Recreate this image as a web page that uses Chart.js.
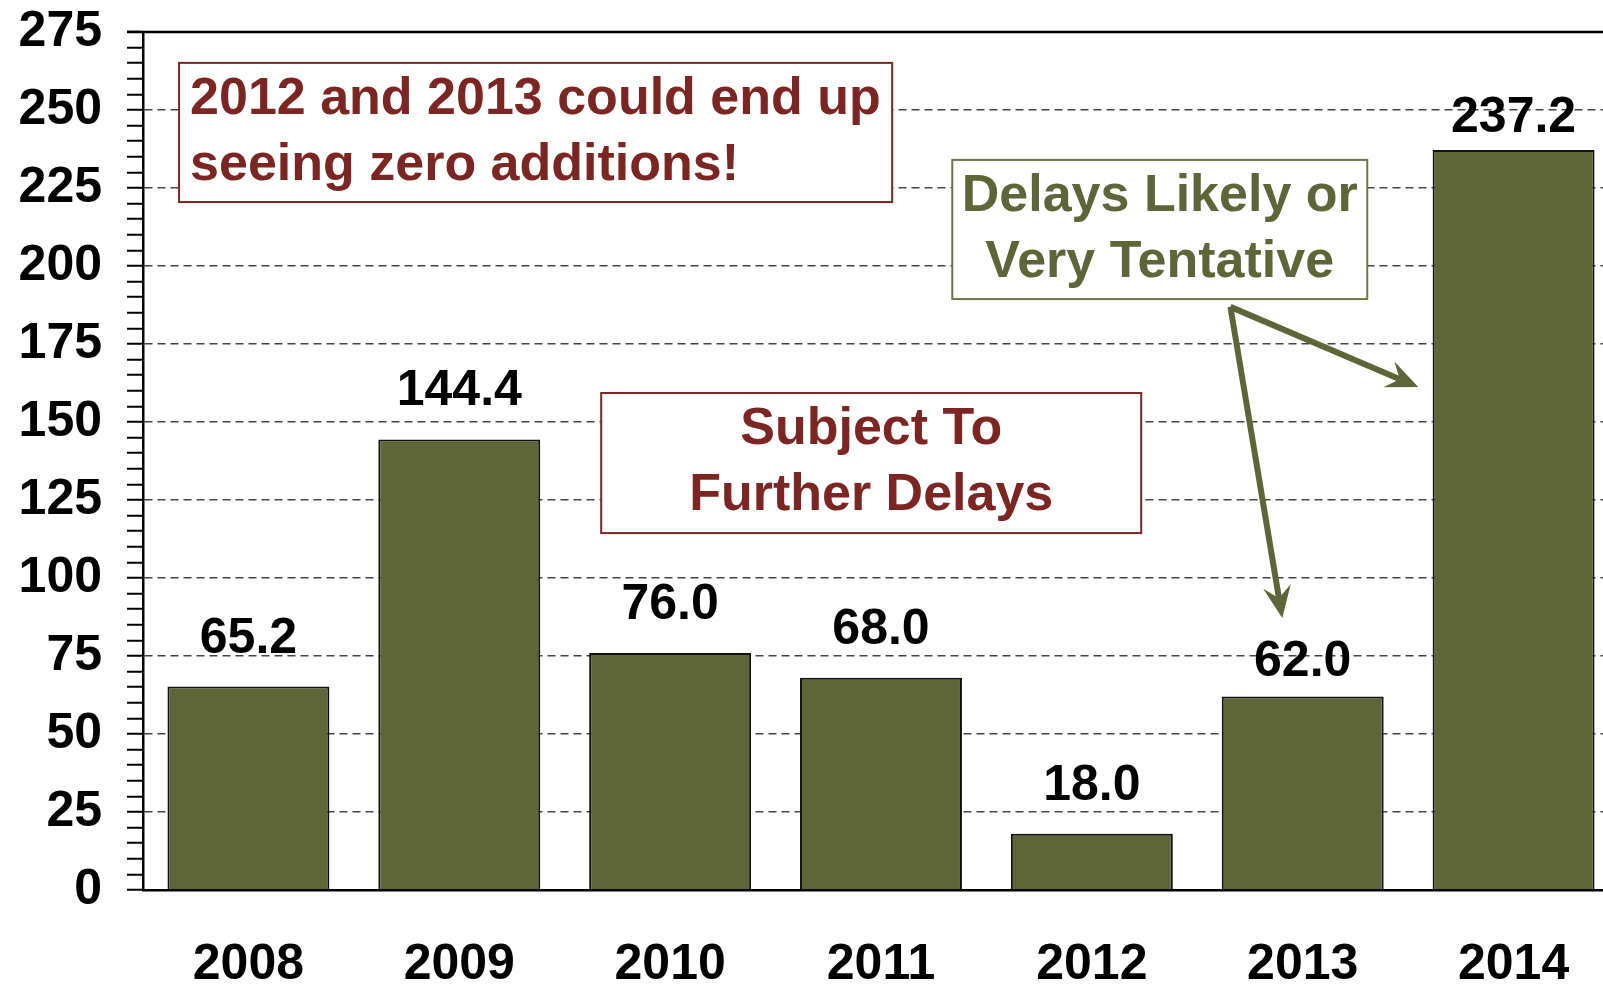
<!DOCTYPE html>
<html>
<head>
<meta charset="utf-8">
<script src="https://cdn.jsdelivr.net/npm/chart.js@4/dist/chart.umd.min.js"></script>
<style>
  html, body { margin: 0; padding: 0; background: #fff; }
  #wrap { width: 1603px; height: 987px; overflow: hidden; }
</style>
</head>
<body>
<div id="wrap"><canvas id="myChart" width="1619" height="987"></canvas></div>
<script>
// capacity additions by year
var years = ['2008', '2009', '2010', '2011', '2012', '2013', '2014'];
var additions = [65.2, 144.4, 76.0, 68.0, 18.0, 62.0, 237.2];
var yMin = 0;
var yMax = 275;
var yMajor = 25;
var yMinor = 5;

var FONT = '"Liberation Sans", Arial, sans-serif';
var OLIVE = '#5E6639';
var DARKRED = '#7B2622';

// notes drawn on top, positioned in axis units (category index, value)
var notes = [
  { lines: ['2012 and 2013 could end up', 'seeing zero additions!'], x0: -0.329, x1: 3.053, y0: 265.1, y1: 220.5,
    align: 'left', color: DARKRED, border: DARKRED },
  { lines: ['Subject To', 'Further Delays'], x0: 1.673, x1: 4.234, y0: 159.3, y1: 114.4,
    align: 'center', color: DARKRED, border: DARKRED },
  { lines: ['Delays Likely or', 'Very Tentative'], x0: 3.338, x1: 5.306, y0: 234.0, y1: 189.4,
    align: 'center', color: OLIVE, border: '#6E7545' }
];
var arrows = [
  { from: [4.657, 186.9], to: [5.548, 161.2] },
  { from: [4.657, 186.9], to: [4.903, 87.2] }
];

var labelGaps = [34, 34, 34, 34, 34, 21, 18];

var valueLabels = {
  id: 'valueLabels',
  afterDatasetsDraw: function(chart) {
    var ctx = chart.ctx;
    var meta = chart.getDatasetMeta(0);
    ctx.save();
    ctx.font = 'bold 50px ' + FONT;
    ctx.fillStyle = '#000';
    ctx.textAlign = 'center';
    ctx.textBaseline = 'alphabetic';
    meta.data.forEach(function(bar, i) {
      ctx.fillText(additions[i].toFixed(1), bar.x, bar.y - labelGaps[i]);
    });
    ctx.restore();
  }
};

var axisFrame = {
  id: 'axisFrame',
  afterDraw: function(chart) {
    var ctx = chart.ctx;
    var y = chart.scales.y;
    var area = chart.chartArea;
    var top = y.getPixelForValue(yMax);
    ctx.save();
    ctx.strokeStyle = '#000';
    ctx.lineWidth = 2.5;
    ctx.beginPath();
    ctx.moveTo(area.left - 16, top);
    ctx.lineTo(area.right, top);
    ctx.stroke();
    ctx.restore();
  }
};

function drawArrow(ctx, x1, y1, x2, y2) {
  var ang = Math.atan2(y2 - y1, x2 - x1);
  var len = 32, half = 14, notch = 20;
  var nx = x2 - notch * Math.cos(ang), ny = y2 - notch * Math.sin(ang);
  ctx.beginPath();
  ctx.moveTo(x1, y1);
  ctx.lineTo(nx, ny);
  ctx.stroke();
  var bx = x2 - len * Math.cos(ang), by = y2 - len * Math.sin(ang);
  ctx.beginPath();
  ctx.moveTo(x2, y2);
  ctx.lineTo(bx - half * Math.sin(ang), by + half * Math.cos(ang));
  ctx.lineTo(nx, ny);
  ctx.lineTo(bx + half * Math.sin(ang), by - half * Math.cos(ang));
  ctx.closePath();
  ctx.fill();
}

var notesPlugin = {
  id: 'notes',
  afterDatasetsDraw: function(chart) {
    var ctx = chart.ctx;
    var xs = chart.scales.x, ys = chart.scales.y;
    ctx.save();
    notes.forEach(function(n) {
      var l = xs.getPixelForValue(n.x0), r = xs.getPixelForValue(n.x1);
      var t = ys.getPixelForValue(n.y0), b = ys.getPixelForValue(n.y1);
      ctx.fillStyle = '#fff';
      ctx.fillRect(l, t, r - l, b - t);
      ctx.strokeStyle = n.border;
      ctx.lineWidth = 2;
      ctx.strokeRect(l, t, r - l, b - t);
      ctx.fillStyle = n.color;
      ctx.font = 'bold 52px ' + FONT;
      ctx.textBaseline = 'middle';
      ctx.textAlign = n.align;
      var cx = n.align === 'left' ? l + 11 : (l + r) / 2;
      var cy = (t + b) / 2;
      ctx.fillText(n.lines[0], cx, cy - 33);
      ctx.fillText(n.lines[1], cx, cy + 33);
    });
    ctx.strokeStyle = OLIVE;
    ctx.fillStyle = OLIVE;
    ctx.lineWidth = 6;
    arrows.forEach(function(a) {
      drawArrow(ctx, xs.getPixelForValue(a.from[0]), ys.getPixelForValue(a.from[1]),
        xs.getPixelForValue(a.to[0]), ys.getPixelForValue(a.to[1]));
    });
    ctx.restore();
  }
};

var ctx = document.getElementById('myChart');
var myBarChart = new Chart(ctx, {
  type: 'bar',
  data: {
    labels: years,
    datasets: [{
      data: additions,
      backgroundColor: OLIVE,
      borderColor: '#111',
      borderWidth: 2,
      barPercentage: 0.768,
      categoryPercentage: 1
    }]
  },
  options: {
    responsive: false,
    animation: false,
    layout: { padding: { top: 32, left: 0, right: 0, bottom: 0 } },
    plugins: { legend: { display: false }, tooltip: { enabled: false } },
    scales: {
      x: {
        grid: { display: false, drawTicks: false },
        border: { display: true, color: '#000', width: 2.5 },
        ticks: { color: '#000', padding: 45, font: { family: FONT, size: 50, weight: 'bold' } },
        afterFit: function(s) { s.height = 97; s.paddingLeft = 0; s.paddingRight = 0; }
      },
      y: {
        min: yMin,
        max: yMax,
        grid: {
          color: function(c) {
            var v = c.tick ? c.tick.value : 0;
            return (v % yMajor === 0 && v > yMin && v < yMax) ? '#444' : 'rgba(0,0,0,0)';
          },
          lineWidth: 1.5,
          tickColor: '#000',
          tickWidth: 2,
          tickLength: 16
        },
        border: { display: true, color: '#000', width: 2.5, dash: [8, 5] },
        ticks: {
          stepSize: yMinor,
          autoSkip: false,
          color: '#000',
          padding: 25,
          font: { family: FONT, size: 50, weight: 'bold' },
          callback: function(v) { return v % yMajor === 0 ? v : ''; }
        },
        // keep the plot area where the reference has it
        afterFit: function(s) { s.width = 143; s.paddingTop = 0; s.paddingBottom = 0; }
      }
    }
  },
  plugins: [valueLabels, notesPlugin, axisFrame]
});
</script>
</body>
</html>
